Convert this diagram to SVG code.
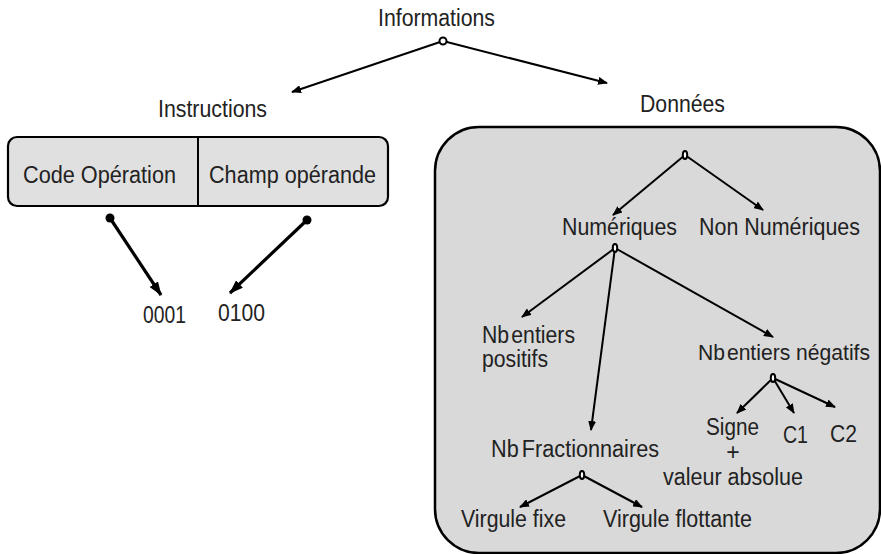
<svg xmlns="http://www.w3.org/2000/svg" width="881" height="554" viewBox="0 0 881 554">
<defs>
<style>
text{font-family:"Liberation Sans",Arial,sans-serif;font-size:23px;fill:#222}
.c{stroke:#000;stroke-width:2;fill:none}
.t{stroke:#000;stroke-width:3.2;fill:none}
.n{fill:#fff;stroke:#000;stroke-width:2}
.ws{word-spacing:-4px}
</style>
<marker id="a" viewBox="0 0 10 8" refX="9" refY="4" markerWidth="10" markerHeight="8" markerUnits="userSpaceOnUse" orient="auto"><path d="M0,0 L10,4 L0,8 Z" fill="#000"/></marker>
<marker id="b" viewBox="0 0 14 10" refX="13" refY="5" markerWidth="14" markerHeight="10" markerUnits="userSpaceOnUse" orient="auto"><path d="M0,0 L14,5 L0,10 Z" fill="#000"/></marker>
</defs>
<rect x="435" y="127" width="445" height="426" rx="44" ry="44" fill="#d9d9d9" stroke="#000" stroke-width="2.5"/>
<g id="connectors">
<line class="c" x1="443" y1="41" x2="292" y2="92" marker-end="url(#a)"/>
<line class="c" x1="443" y1="41" x2="607" y2="83" marker-end="url(#a)"/>
<line class="t" x1="110" y1="218" x2="161" y2="295" marker-end="url(#b)"/>
<circle cx="110" cy="218" r="4.5" fill="#000"/>
<line class="t" x1="307" y1="220" x2="230" y2="293" marker-end="url(#b)"/>
<circle cx="307" cy="220" r="4.5" fill="#000"/>
<line class="c" x1="685" y1="155" x2="613" y2="215" marker-end="url(#a)"/>
<line class="c" x1="685" y1="155" x2="763" y2="210" marker-end="url(#a)"/>
<line class="c" x1="615" y1="248" x2="522" y2="317" marker-end="url(#a)"/>
<line class="c" x1="615" y1="248" x2="773" y2="337" marker-end="url(#a)"/>
<line class="c" x1="615" y1="248" x2="591" y2="430" marker-end="url(#a)"/>
<line class="c" x1="773" y1="378" x2="737" y2="413" marker-end="url(#a)"/>
<line class="c" x1="773" y1="378" x2="794" y2="413" marker-end="url(#a)"/>
<line class="c" x1="773" y1="378" x2="835" y2="407" marker-end="url(#a)"/>
<line class="c" x1="582" y1="475" x2="520" y2="507" marker-end="url(#a)"/>
<line class="c" x1="582" y1="475" x2="642" y2="507" marker-end="url(#a)"/>
<circle class="n" cx="443" cy="41" r="3.5"/>
<ellipse class="n" cx="685" cy="155" rx="2.2" ry="4"/>
<ellipse class="n" cx="615" cy="248" rx="2.2" ry="4"/>
<ellipse class="n" cx="773" cy="378" rx="2.2" ry="4"/>
<ellipse class="n" cx="582" cy="475" rx="2.2" ry="4"/>
</g>
<g id="informations"><text x="378" y="26" textLength="117" lengthAdjust="spacingAndGlyphs">Informations</text></g>
<g id="instructions"><text x="158" y="117" textLength="109" lengthAdjust="spacingAndGlyphs">Instructions</text></g>
<g id="donnees"><text x="640" y="112" textLength="85" lengthAdjust="spacingAndGlyphs">Données</text></g>
<g id="format">
<rect x="8" y="137" width="380" height="69" rx="9" ry="9" fill="#e0e0e0" stroke="#000" stroke-width="2.2"/>
<line x1="198" y1="137" x2="198" y2="206" stroke="#000" stroke-width="2"/>
<text x="23" y="183" textLength="153" lengthAdjust="spacingAndGlyphs">Code Opération</text>
<text x="209" y="183" textLength="167" lengthAdjust="spacingAndGlyphs">Champ opérande</text>
</g>
<g id="v0001"><text x="143" y="323" textLength="43" lengthAdjust="spacingAndGlyphs">0001</text></g>
<g id="v0100"><text x="218" y="321" textLength="47" lengthAdjust="spacingAndGlyphs">0100</text></g>
<g id="numeriques"><text x="562" y="235" textLength="115" lengthAdjust="spacingAndGlyphs">Numériques</text></g>
<g id="nonnumeriques"><text x="699" y="235" textLength="161" lengthAdjust="spacingAndGlyphs">Non Numériques</text></g>
<g id="positifs"><text x="482" y="343" textLength="93" lengthAdjust="spacingAndGlyphs" class="ws">Nb entiers</text><text x="482" y="367" textLength="66" lengthAdjust="spacingAndGlyphs">positifs</text></g>
<g id="negatifs"><text x="698" y="360" textLength="172" lengthAdjust="spacingAndGlyphs" style="font-size:21.5px"><tspan class="ws">Nb </tspan>entiers négatifs</text></g>
<g id="signe"><text x="706" y="435" textLength="53" lengthAdjust="spacingAndGlyphs">Signe</text><text x="733" y="460" text-anchor="middle">+</text><text x="663" y="485" textLength="140" lengthAdjust="spacingAndGlyphs">valeur absolue</text></g>
<g id="c1"><text x="783" y="443" textLength="25" lengthAdjust="spacingAndGlyphs">C1</text></g>
<g id="c2"><text x="830" y="442" textLength="27" lengthAdjust="spacingAndGlyphs">C2</text></g>
<g id="fractionnaires"><text x="491" y="457" textLength="168" lengthAdjust="spacingAndGlyphs" word-spacing="-3">Nb Fractionnaires</text></g>
<g id="fixe"><text x="461" y="527" textLength="105" lengthAdjust="spacingAndGlyphs">Virgule fixe</text></g>
<g id="flottante"><text x="603" y="527" textLength="149" lengthAdjust="spacingAndGlyphs">Virgule flottante</text></g>
</svg>
